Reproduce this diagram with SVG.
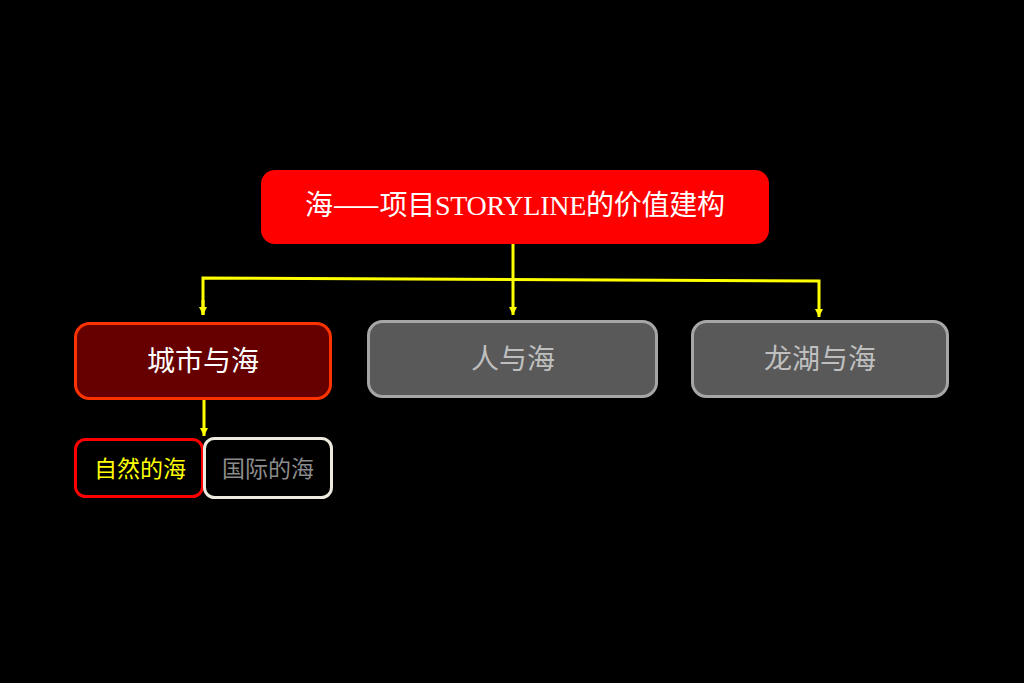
<svg xmlns="http://www.w3.org/2000/svg" width="1024" height="683" viewBox="0 0 1024 683">
<defs>
<marker id="ad" markerWidth="8" markerHeight="9" refX="8" refY="4" orient="auto" markerUnits="userSpaceOnUse" viewBox="0 0 8 8">
<path d="M0,0 L8,4 L0,8 Z" fill="#FFFF00"/>
</marker>
</defs>
<style>
text{font-family:"Liberation Serif","Noto Sans CJK SC",serif;text-anchor:middle}
.cjk{font-family:"Noto Sans CJK SC",sans-serif}
.conn{stroke:#FFFF00;stroke-width:3;fill:none}
</style>
<rect width="1024" height="683" fill="#000"/>
<g id="root">
<rect x="261" y="170" width="508" height="74" rx="14" fill="#FF0000"/>
<text x="515" y="215" font-size="28" fill="#FFFFFF" textLength="420" lengthAdjust="spacing">海<tspan class="cjk">——</tspan>项目STORYLINE的价值建构</text>
</g>
<g id="connectors">
<polyline class="conn" points="203,315 203,278 819,281 819,317" marker-end="url(#ad)"/>
<line class="conn" x1="513" y1="244" x2="513" y2="315" marker-end="url(#ad)"/>
<path class="conn" d="M203,300 L203,315" marker-end="url(#ad)"/>
<line class="conn" x1="204" y1="398" x2="204" y2="436" marker-end="url(#ad)"/>
</g>
<g id="city">
<rect x="75.5" y="323.5" width="255" height="75" rx="14" fill="#660000" stroke="#FF3300" stroke-width="3"/>
<text x="203" y="371" font-size="28" fill="#FFFFFF">城市与海</text>
</g>
<g id="people">
<rect x="368.5" y="321.5" width="288" height="75" rx="14" fill="#595959" stroke="#A6A6A6" stroke-width="3"/>
<text x="513" y="369" font-size="28" fill="#BFBFBF">人与海</text>
</g>
<g id="longhu">
<rect x="692.5" y="321.5" width="255" height="75" rx="14" fill="#595959" stroke="#A6A6A6" stroke-width="3"/>
<text x="820" y="369" font-size="28" fill="#BFBFBF">龙湖与海</text>
</g>
<g id="nature">
<rect x="75.5" y="439.5" width="127" height="57" rx="10" fill="#000" stroke="#FF0000" stroke-width="3"/>
<text x="140" y="477" font-size="23" fill="#FFFF00">自然的海</text>
</g>
<g id="intl">
<rect x="204.5" y="438.5" width="127" height="59" rx="10" fill="#000" stroke="#EDEAE0" stroke-width="3"/>
<text x="268" y="477" font-size="23" fill="#8C8C8C">国际的海</text>
</g>
</svg>
